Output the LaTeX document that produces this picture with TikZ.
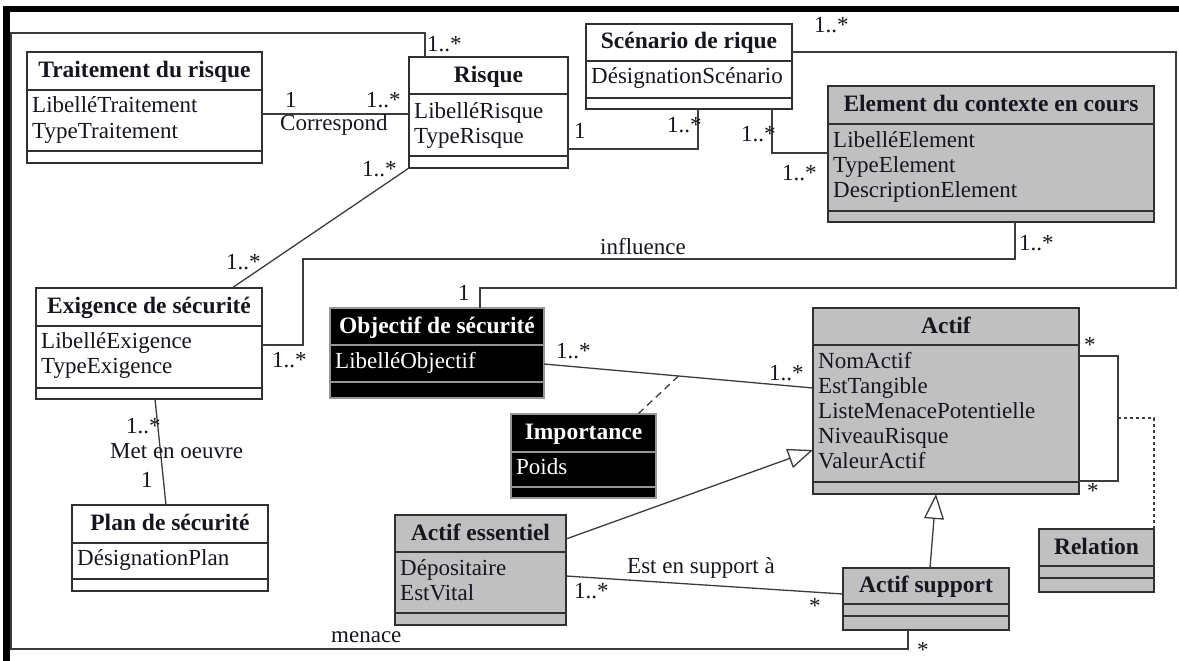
\documentclass[tikz,border=0pt]{standalone}
\usepackage{fontspec}
\setmainfont{Liberation Serif}
\usetikzlibrary{arrows.meta}

\definecolor{clsgray}{RGB}{192,192,192}
\definecolor{boxline}{RGB}{48,48,48}
\definecolor{darkline}{RGB}{150,150,150}
\definecolor{linkcol}{RGB}{60,60,60}
\definecolor{txt}{RGB}{22,22,32}

% One UML class: frame, two compartment lines and a bold title.
% #1 name, #2 style, #3 left, #4 top, #5 right, #6 bottom,
% #7 y of the title line, #8 y of the attribute line, #9 title
\newcommand\umlclass[9]{%
  \node[#2, anchor=north west, minimum width={#5-#3}, minimum height={#6-#4}] (#1) at (#3,#4) {};
  \draw[#2 div] (#3,#7) -- (#5,#7) (#3,#8) -- (#5,#8);
  \node[ttl, #2 text] (#1-t) at ({(#3+#5)/2},{(#4+#7)/2+6.5}) {#9};
}
% Attribute list of a class, one node per line.
% [#1] extra style, #2 class name, #3 x, #4 first baseline, #5 attributes
\newcommand\umlattrs[5][]{%
  \foreach \txt [count=\k] in {#5} {
    \node[attr, #1] (#2-a\k) at (#3, {#4+(\k-1)*25.2}) {\txt};
  }
}

\begin{document}
\begin{tikzpicture}[x=1pt, y=-1pt,
  box/.style={draw=boxline, line width=1.6pt, inner sep=0pt, outer sep=0pt},
  whitebox/.style={box, fill=white},
  graybox/.style={box, fill=clsgray},
  darkbox/.style={box, draw=darkline, fill=black},
  whitebox div/.style={draw=boxline, line width=1.4pt},
  graybox div/.style={draw=boxline, line width=1.4pt},
  darkbox div/.style={draw=darkline, line width=1.4pt},
  whitebox text/.style={text=txt},
  graybox text/.style={text=txt},
  darkbox text/.style={text=white},
  ttl/.style={font=\fontsize{23.5}{25}\selectfont\bfseries, inner sep=0pt, anchor=base},
  attr/.style={font=\fontsize{23}{25}\selectfont, inner sep=0pt, anchor=base west, text=txt},
  lbl/.style={font=\fontsize{23}{25}\selectfont, inner sep=0pt, anchor=base west, text=txt},
  link/.style={draw=linkcol, line width=1.3pt},
  assoclass/.style={dash pattern=on 7pt off 5pt},
  relnote/.style={dash pattern=on 3pt off 3pt},
  gen/.style={-{Triangle[length=25pt, width=20pt, fill=white, line width=1.3pt]}},
]
\useasboundingbox (0,0) rectangle (1179,661);
\fill[white] (0,0) rectangle (1179,661);

% window frame
\fill[black] (3,6) rectangle (1179,12.5);
\fill[black] (3,6) rectangle (10,661);

% classes
\umlclass{tr}{whitebox}{27}{52}{262}{163}{90}{151}{Traitement du risque}
\umlattrs{tr}{32}{113}{LibelléTraitement,TypeTraitement}

\umlclass{ri}{whitebox}{409}{57}{568}{168}{94}{156}{Risque}
\umlattrs{ri}{414}{118}{LibelléRisque,TypeRisque}

\umlclass{sc}{whitebox}{586}{24}{792}{109}{61}{98}{Scénario de rique}
\umlattrs{sc}{591}{84}{DésignationScénario}

\umlclass{el}{graybox}{828}{86}{1154}{222}{124}{211}{Element du contexte en cours}
\umlattrs{el}{833}{147}{LibelléElement,TypeElement,DescriptionElement}

\umlclass{ex}{whitebox}{36}{288}{262}{399}{326}{388}{Exigence de sécurité}
\umlattrs{ex}{41}{348}{LibelléExigence,TypeExigence}

\umlclass{pl}{whitebox}{72}{505}{268}{591}{543}{579}{Plan de sécurité}
\umlattrs{pl}{77}{565}{DésignationPlan}

\umlclass{ob}{darkbox}{330}{308}{544}{398}{345}{382}{Objectif de sécurité}
\umlattrs[text=white]{ob}{335}{368}{LibelléObjectif}

\umlclass{im}{darkbox}{511}{414}{656}{498}{452}{487}{Importance}
\umlattrs[text=white]{im}{516}{474}{Poids}

\umlclass{ac}{graybox}{813}{308}{1079}{494}{345}{482}{Actif}
\umlattrs{ac}{818}{368}{NomActif,EstTangible,ListeMenacePotentielle,NiveauRisque,ValeurActif}

\umlclass{ae}{graybox}{395}{515}{566}{625}{552}{613}{Actif essentiel}
\umlattrs{ae}{400}{575}{Dépositaire,EstVital}

\umlclass{re}{graybox}{1039}{529}{1154}{592}{566}{578}{Relation}
\umlclass{as}{graybox}{843}{568}{1009}{630}{604}{616}{Actif support}

% associations
\draw[link] (tr.east |- 0,114) -- (ri.west |- 0,114);
\draw[link] (ri.east |- 0,149) -| (698,0 |- sc.south);
\draw[link] (772,0 |- sc.south) |- (el.west |- 0,153);
\draw[link] (sc.east |- 0,52) -| (1176,288) -| (480,0 |- ob.north);
\draw[link] (1015,0 |- el.south) |- (303,259) |- (ex.east |- 0,345);
\draw[link] (ri.south west) -- (232,0 |- ex.north);
\draw[link] (155,0 |- ex.south) -- (166,0 |- pl.north);
\draw[link] (908,0 |- as.south) |- (11,649) |- (425,33) -- (425,0 |- ri.north);
\draw[link] (ob.east |- 0,364) -- coordinate[pos=0.5] (ob-ac) (ac.west |- 0,388);
\draw[link, assoclass] (ob-ac) -- (638,0 |- im.north);
\draw[link] (ae.east |- 0,576) -- (as.west |- 0,594);

% reflexive association of Actif and its class Relation
\draw[link] (ac.east |- 0,356) -| (1118,481) -- (ac.east |- 0,481);
\coordinate (loop) at (1118,418);
\draw[link, relnote] (loop) -| (re.north east);

% generalisations
\draw[link, gen] (ae.east |- 0,539) -- (ac.west |- 0,450);
\draw[link, gen] (930,0 |- as.north) -- (936,0 |- ac.south);

% multiplicities and association names
\node[lbl] (m-tr1) at (285,107) {1};
\node[lbl] (m-tr2) at (366,107) {1..*};
\node[lbl] (l-corr) at (280,130) {Correspond};
\node[lbl] (m-ri1) at (362,176) {1..*};
\node[lbl] (m-ri2) at (427,52) {1..*};
\node[lbl] (m-ri3) at (574,139) {1};
\node[lbl] (m-sc1) at (667,132) {1..*};
\node[lbl] (m-sc2) at (741,142) {1..*};
\node[lbl] (m-el1) at (782,180) {1..*};
\node[lbl] (m-sc3) at (814,33) {1..*};
\node[lbl] (m-el2) at (1019,250) {1..*};
\node[lbl] (l-infl) at (600,254) {influence};
\node[lbl] (m-ex1) at (226,269) {1..*};
\node[lbl] (m-ex2) at (272,367) {1..*};
\node[lbl] (m-ex3) at (126,433) {1..*};
\node[lbl] (l-met) at (110,458) {Met en oeuvre};
\node[lbl] (m-pl) at (141,487) {1};
\node[lbl] (l-men) at (331,642) {menace};
\node[lbl] (m-ob1) at (458,300) {1};
\node[lbl] (m-ob2) at (556,358) {1..*};
\node[lbl] (m-ac1) at (769,380) {1..*};
\node[lbl] (m-ac2) at (1084,352) {*};
\node[lbl] (m-ac3) at (1087,498) {*};
\node[lbl] (l-sup) at (627,573) {Est en support à};
\node[lbl] (m-ae) at (574,598) {1..*};
\node[lbl] (m-as1) at (809,613) {*};
\node[lbl] (m-as2) at (917,657) {*};
\end{tikzpicture}
\end{document}
